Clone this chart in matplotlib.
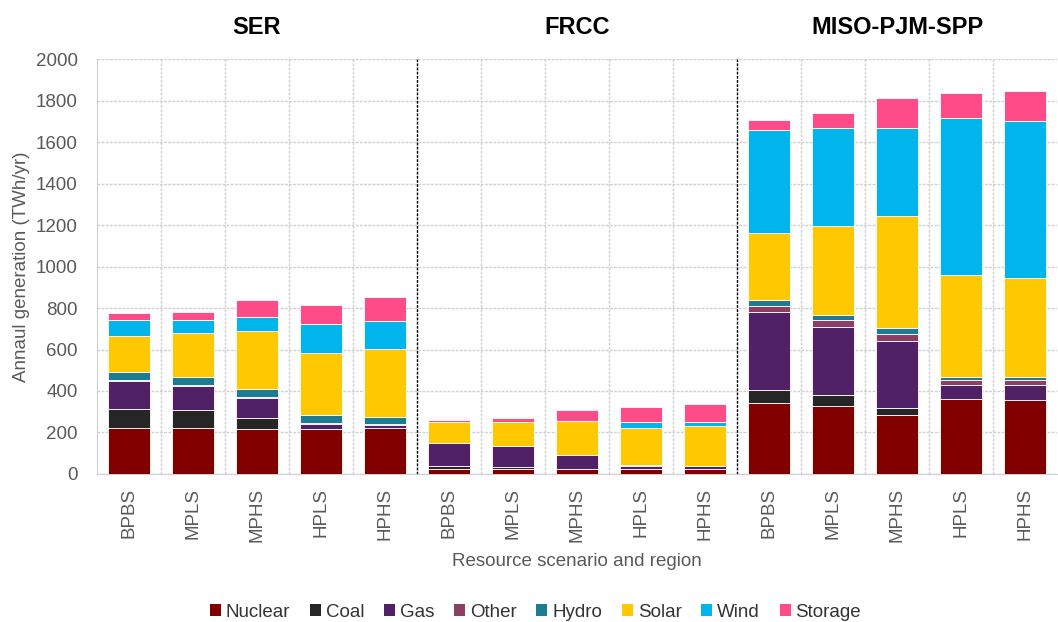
import matplotlib
matplotlib.use("Agg")
import matplotlib.pyplot as plt
import numpy as np
from matplotlib.patches import Patch

plt.rcParams['font.family'] = ['Liberation Sans', 'DejaVu Sans']

regions = ["SER", "FRCC", "MISO-PJM-SPP"]
scenarios = ["BPBS", "MPLS", "MPHS", "HPLS", "HPHS"]
sources = ["Nuclear", "Coal", "Gas", "Other", "Hydro", "Solar", "Wind", "Storage"]
colors = ["#800000", "#262626", "#512168", "#8c3f63", "#1b7c94", "#ffc800", "#00b4ec", "#ff4c88"]

# values per source, 15 bars (SER x5, FRCC x5, MISO-PJM-SPP x5), TWh/yr
nuclear = [223, 223, 215, 215, 223,  25, 25, 25, 25, 25,  341, 329, 283, 361, 355]
coal    = [90, 84, 53, 0, 0,          12, 9, 0, 0, 0,     64, 50, 37, 0, 0]
gas     = [135, 115, 98, 27, 14,      110, 103, 65, 15, 12,  377, 331, 323, 66, 72]
other   = [5, 5, 5, 5, 4,             2, 0, 0, 3, 2,      29, 32, 33, 28, 28]
hydro   = [40, 40, 37, 36, 35,        0, 0, 0, 0, 0,      29, 26, 26, 12, 12]
solar   = [170, 211, 281, 302, 328,   100, 112, 165, 180, 192,  321, 427, 540, 492, 479]
wind    = [81, 64, 66, 138, 132,      0, 0, 0, 26, 19,    495, 474, 427, 755, 755]
storage = [30, 39, 85, 91, 117,       13, 19, 53, 72, 87, 52, 71, 142, 124, 143]

data = [nuclear, coal, gas, other, hydro, solar, wind, storage]
labels = scenarios * 3

fig = plt.figure(figsize=(10.58, 6.22), dpi=100)
ax = fig.add_axes([0.0917, 0.238, 0.9073, 0.667])

x = np.arange(len(labels))
bottom = np.zeros(len(labels))
for vals, name, col in zip(data, sources, colors):
    v = np.array(vals, dtype=float)
    ax.bar(x, v, width=0.66, bottom=bottom, color=col, label=name,
           edgecolor="white", linewidth=0.6, zorder=3)
    bottom += v

ax.set_xlim(-0.5, len(labels) - 0.5)
ax.set_ylim(0, 2000)
ax.set_yticks(np.arange(0, 2001, 200))
ax.set_xticks(x)
ax.set_xticklabels(labels, rotation=90, fontsize=13.5, color="#595959")
ax.tick_params(axis='y', labelsize=13.5, colors="#595959", length=0, pad=14)
ax.tick_params(axis='x', length=0, pad=10)

# grid
ax.yaxis.grid(True, color="#d0d0d0", linestyle=(0, (2, 1)), linewidth=1.0, zorder=0)
for b in np.arange(0.5, len(labels) - 1, 1.0):
    if b in (4.5, 9.5):
        ax.axvline(b, color="black", linestyle=(0, (2, 1)), linewidth=1.0, zorder=4)
    else:
        ax.axvline(b, color="#d0d0d0", linestyle=(0, (2, 1)), linewidth=1.0, zorder=0)

for s in ["top", "right"]:
    ax.spines[s].set_visible(False)
ax.spines["left"].set_color("#d0d0d0")
ax.spines["bottom"].set_color("#d0d0d0")

ax.set_ylabel("Annaul generation (TWh/yr)", fontsize=13.5, color="#595959", labelpad=4)
ax.set_xlabel("Resource scenario and region", fontsize=13.5, color="#595959", labelpad=8)

for i, r in enumerate(regions):
    ax.text(i * 5 + 2, 1.075, r, transform=ax.get_xaxis_transform(), ha="center",
            va="center", fontsize=17, fontweight="bold", color="black")

handles = [Patch(facecolor=c, edgecolor="none", label=n) for n, c in zip(sources, colors)]
fig.legend(handles=handles, loc="center", bbox_to_anchor=(0.506, 0.016), ncol=8,
           frameon=False, fontsize=13.5, handlelength=0.6, handleheight=0.6,
           handletextpad=0.25, columnspacing=1.05, labelcolor="#333333")

fig.savefig("out.png", dpi=100)
